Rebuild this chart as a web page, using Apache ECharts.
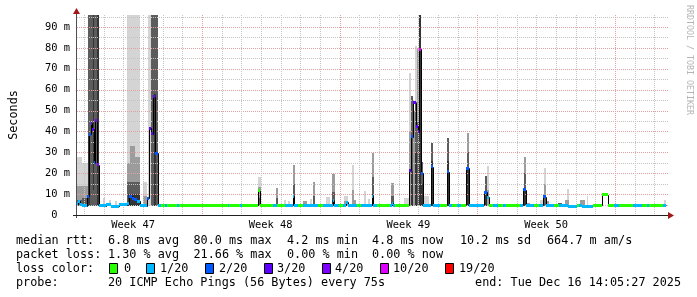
<!DOCTYPE html>
<html><head><meta charset="utf-8">
<script src="https://cdn.jsdelivr.net/npm/echarts@6/dist/echarts.min.js"></script>
<style>html,body{margin:0;padding:0;background:#fff}#c{width:697px;height:297px}</style>
</head><body><div id="c"></div>
<script>
// ---- time axis: days since Tue 18 Nov 2025 00:00 ----
const dayTicks = [0,1,2,3,4,5,6,7,8,9,10,11,12,13,14,15,16,17,18,19,20,21,22,23,24,25,26,27,28,29];
const weekTicks = [6,13,20,27];
const weekLabels = ['Week 47','Week 48','Week 49','Week 50'];
const weekLabelDays = [2.5,9.5,16.5,23.5];
// ---- value axis (ms) ----
const yMajorTicks = [10,20,30,40,50,60,70,80,90];
const yMinorTicks = [5,15,25,35,45,55,65,75,85,95];
const yMax = 95.74;

// median rtt: [startDay, endDay, ms, lostPings]
const medianSegments = [
[-0.4,-0.3,5.5,1],[-0.3,-0.2,6.5,1],[-0.2,-0.1,5,1],[-0.1,0.15,4.5,1],[0.15,0.25,9,2],
[0.25,0.35,38.6,2],[0.35,0.41,44,3],[0.41,0.5,41,3],[0.5,0.575,25,2],[0.575,0.65,45,4],[0.65,0.75,24,4],
[0.75,1.15,4.5,1],[1.15,1.4,5,1],[1.4,1.8,4.3,1],[1.8,2.2,4.8,1],[2.2,2.3,5.5,1],[2.3,2.45,9,2],
[2.45,2.55,8,2],[2.55,2.7,7.2,2],[2.7,2.85,6.7,1],[2.85,3.2,4.5,1],[3.2,3.3,8,2],[3.3,3.4,41.5,3],
[3.4,3.5,39,3],[3.5,3.625,56.6,3],[3.625,3.75,29.5,2],[3.75,3.9,4.7,1],[3.9,4.15,4.7,0],[4.15,4.25,4.7,1],
[4.25,4.75,4.7,0],[4.75,4.85,4.5,1],[4.85,7.35,4.7,0],[7.35,7.4,4.7,1],[7.4,7.95,4.7,0],[7.95,8.025,4.7,1],
[8.025,8.85,4.7,0],[8.85,8.975,11.5,0],[8.975,9.6,4.7,0],[9.6,9.8,4.7,1],[9.8,10.25,4.7,0],[10.25,10.625,4.7,1],
[10.625,10.7,9,1],[10.7,10.9,4.7,1],[10.9,11.15,4.7,0],[11.15,11.9,4.7,1],[11.9,12.15,4.7,0],[12.15,12.65,4.7,1],
[12.65,12.725,6.8,1],[12.725,12.95,4.7,1],[12.95,13.2,4.7,0],[13.2,13.35,4.7,1],[13.35,13.425,6,1],[13.425,13.9,4.7,1],
[13.9,14.1,4.7,0],[14.1,14.625,4.7,1],[14.625,14.7,9,1],[14.7,14.9,4.7,1],[14.9,15.55,4.7,0],[15.55,15.65,4.7,1],
[15.65,15.725,5.6,1],[15.725,15.8,4.7,1],[15.8,16.55,4.7,0],[16.55,16.65,21.5,3],[16.65,16.75,37.5,2],
[16.75,16.9,53.7,3],[16.9,16.975,42.6,3],[16.975,17.05,39.9,4],[17.05,17.15,79.4,10],[17.15,17.25,20,2],
[17.25,17.625,4.7,1],[17.625,17.75,23,2],[17.75,18.1,4.7,1],[18.1,18.45,4.7,0],[18.45,18.575,20.7,2],
[18.575,18.7,4.7,1],[18.7,18.95,4.7,0],[18.95,19.2,4.7,1],[19.2,19.45,4.7,0],[19.45,19.575,22.3,2],
[19.575,20.35,4.7,1],[20.35,20.475,11,2],[20.475,20.6,8.5,1],[20.6,20.8,4.7,0],[20.8,21.05,4.7,1],
[21.05,21.3,4.7,0],[21.3,21.45,4.7,1],[21.45,22.2,4.7,0],[22.2,22.35,4.7,1],[22.35,22.5,12,2],
[22.5,22.9,4.7,1],[22.9,23.15,4.7,0],[23.15,23.35,4.7,1],[23.35,23.5,8.8,2],[23.5,23.9,4.7,1],
[23.9,24.15,4.7,0],[24.15,24.6,4.7,1],[24.6,25.05,4.3,1],[25.05,25.2,4.7,0],[25.2,25.35,4.7,1],
[25.35,25.9,4.2,1],[25.9,26.335,4.7,0],[26.335,26.635,9.6,0],[26.635,26.95,4.7,0],[26.95,27.2,4.7,1],
[27.2,27.9,4.7,0],[27.9,28.4,4.7,1],[28.4,28.65,4.7,0],[28.65,28.75,4.7,1],[28.75,29.45,4.7,0],[29.45,29.6,4.7,1]
];

// smoke: [startDay, endDay, lowMs, highMs, density 0..3]
const smokeBands = [
[-0.4,-0.1,4.3,28,0],[-0.4,-0.1,4.3,14,1],[-0.4,-0.1,4.3,7,2],
[-0.1,0.2,4.3,25,0],[-0.1,0.2,4.3,14,1],[-0.1,0.2,4.3,8,2],
[0.225,0.75,4.3,96,2],[0.225,0.325,4.3,38,3],[0.45,0.5,12,96,3],[0.65,0.75,4.3,96,3],
[0.95,1.05,4.3,8,0],[1.3,1.4,4.3,7,0],[1.6,1.7,4.3,6.5,0],
[2.2,2.85,4.3,96,0],[2.2,2.35,4.3,25,1],[2.35,2.6,4.3,33,1],[2.6,2.85,4.3,28,1],[2.2,2.85,4.3,16,2],[2.25,2.85,4.3,10,3],
[3.0,3.2,4.3,16,0],[3.0,3.2,4.3,9,1],
[3.25,3.4,4.3,96,0],[3.4,3.75,4.3,96,2],[3.55,3.65,4.3,58,3],
[8.85,9.0,4.3,18,0],[8.85,9.0,4.3,13.5,1],[8.85,9.0,4.3,8,2],
[9.75,9.85,4.3,13,1],[9.75,9.85,4.3,8,2],
[10.2,10.3,4.3,7,0],[10.4,10.5,4.3,6.5,0],
[10.625,10.75,4.3,24,1],[10.625,10.75,4.3,15,2],[10.625,10.75,4.3,9,3],
[11.135,11.335,4.3,6.7,1],[11.5,11.6,4.3,7.5,0],
[11.635,11.75,4.3,16,1],[11.635,11.75,4.3,9,2],
[12.3,12.5,4.3,8.5,0],
[12.635,12.75,4.3,19.6,1],[12.635,12.75,4.3,11,2],[12.635,12.75,4.3,7,3],
[13.215,13.415,4.3,9,0],[13.215,13.415,4.3,6.5,1],
[13.635,13.75,4.3,24,0],[13.635,13.75,4.3,12,1],[13.75,13.85,4.3,7,1],
[14.25,14.35,4.3,11.5,0],[14.425,14.525,4.3,7.5,0],
[14.635,14.75,4.3,29.5,1],[14.635,14.75,4.3,18,2],[14.635,14.75,4.3,10,3],
[15.635,15.75,4.3,15.5,1],[15.635,15.75,4.3,9,2],
[16.3,16.525,4.3,8,0],
[16.525,16.615,4.3,67.8,0],[16.525,16.615,4.3,40,1],
[16.615,16.75,4.3,57,2],[16.615,16.75,4.3,21,3],
[16.75,16.815,4.3,50,1],
[16.815,16.95,4.3,81,0],[16.815,16.95,4.3,54,2],[16.815,16.95,4.3,30,3],
[16.95,17.05,4.3,80,1],[16.95,17.05,4.3,45,2],
[17.05,17.15,4.3,96,3],
[17.15,17.25,4.3,25.5,2],[17.15,17.25,4.3,15,3],
[17.25,17.55,4.3,9,0],
[17.635,17.75,4.3,34.6,2],[17.635,17.75,4.3,26,3],
[18.465,18.585,4.3,37,2],[18.465,18.585,4.3,26,3],
[19.465,19.6,4.3,39.4,1],[19.465,19.6,4.3,30,2],[19.465,19.6,4.3,22,3],
[20.385,20.5,4.3,18.8,2],[20.385,20.5,4.3,11,3],[20.5,20.6,4.3,23.6,0],[20.5,20.6,4.3,12,1],
[22.365,22.5,4.3,28,1],[22.365,22.5,4.3,20,2],[22.365,22.5,4.3,12,3],
[22.5,22.7,4.3,5.9,1],[23.2,23.335,4.3,7,0],[23.335,23.4,4.3,8.8,3],
[23.4,23.5,4.3,22.3,0],[23.4,23.5,4.3,15,1],[23.4,23.5,4.3,9,2],
[23.5,23.625,4.3,6.5,1],[24.1,24.3,4.3,5.6,2],
[24.465,24.665,4.3,7,1],[24.585,24.65,4.3,12.4,0],
[25.25,25.5,4.3,7,1],[25.585,25.65,4.3,9,0],[29.5,29.6,4.3,7,0]
];

const lossLevels = [0,1,2,3,4,10,19];
const lossLabels = ['0','1/20','2/20','3/20','4/20','10/20','19/20'];
const statsRtt = ['median rtt:','6.8 ms avg','80.0 ms max','4.2 ms min','4.8 ms now','10.2 ms sd','664.7 m am/s'];
const statsLoss = ['packet loss:','1.30 % avg','21.66 % max','0.00 % min','0.00 % now'];
const probeText = ['probe:','20 ICMP Echo Pings (56 Bytes) every 75s'];
const endText = 'end: Tue Dec 16 14:05:27 2025';

// ---- styles ----
const MONO = '"DejaVu Sans Mono", monospace';
const lossColors = ['#26ff00','#00b8ff','#0059ff','#5e00ff','#7e00ff','#dd00ff','#ff0000'];
const smokeColors = ['#d4d4d4','#9c9c9c','#5c5c5c','#343434'];
const minorGrid = '#c4c4c4', majorGrid = '#e4a0a0';
const lossColor = l => lossColors[lossLevels.indexOf(l)];

const chart = echarts.init(document.getElementById('c'), null, {renderer:'canvas', width:697, height:297});

const gridData = [
  ...yMinorTicks.map(v => [0, v]), ...yMajorTicks.map(v => [1, v]),
  ...dayTicks.filter(d => weekTicks.indexOf(d) < 0).map(v => [2, v]), ...weekTicks.map(v => [3, v])
];
const medianData = medianSegments.map((s, i) => [s[0], s[1], s[2], s[3], i ? medianSegments[i-1][2] : s[2]]);

const statX = [16,108,193.5,287,372,460,547];
const rowY = [241,255,269,283];
const legendBoxX = [109,146,205,264,322,380,445];
const legendTextX = [124,160,219,277,335,393,459];
const font = '11.8px ' + MONO;
const graphics = [];
statsRtt.forEach((t,i) => graphics.push({type:'text', x:statX[i], y:rowY[0], style:{text:t, font, fill:'#000', verticalAlign:'middle'}}));
statsLoss.forEach((t,i) => graphics.push({type:'text', x:statX[i], y:rowY[1], style:{text:t, font, fill:'#000', verticalAlign:'middle'}}));
graphics.push({type:'text', x:16, y:rowY[2], style:{text:'loss color:', font, fill:'#000', verticalAlign:'middle'}});
lossLabels.forEach((t,i) => {
  graphics.push({type:'rect', shape:{x:legendBoxX[i]+0.5, y:rowY[2]-5.5, width:8, height:10}, style:{fill:lossColors[i], stroke:'#000', lineWidth:1}});
  graphics.push({type:'text', x:legendTextX[i], y:rowY[2], style:{text:t, font, fill:'#000', verticalAlign:'middle'}});
});
probeText.forEach((t,i) => graphics.push({type:'text', x:statX[i], y:rowY[3], style:{text:t, font, fill:'#000', verticalAlign:'middle'}}));
graphics.push({type:'text', x:681, y:rowY[3], style:{text:endText, font, fill:'#000', align:'right', verticalAlign:'middle'}});
graphics.push({type:'text', x:689, y:5, rotation:-Math.PI/2, style:{text:'RRDTOOL / TOBI OETIKER', font:'8.3px ' + MONO, fill:'#b4b4b4', verticalAlign:'middle'}});

chart.setOption({
  animation: false,
  backgroundColor: '#fff',
  grid: {left:66, right:29, top:15, bottom:82},
  xAxis: {type:'value', min:-0.4, max:29.7, axisLine:{show:false}, axisTick:{show:false}, axisLabel:{show:false}, splitLine:{show:false}},
  yAxis: {type:'value', min:0, max:yMax, interval:10,
    axisLine:{show:false}, axisTick:{show:false}, splitLine:{show:false},
    axisLabel:{showMaxLabel:false, margin:6, fontFamily:MONO, fontSize:10.4, color:'#000',
      formatter: v => v === 0 ? '0  ' : v + ' m'},
    name:'Seconds', nameLocation:'middle', nameGap:56, nameRotate:90,
    nameTextStyle:{fontFamily:MONO, fontSize:11.8, color:'#000'}},
  graphic: graphics,
  series: [
    { // smoke
      type:'custom', clip:true, z:2, data:smokeBands,
      renderItem(params, api) {
        const p0 = api.coord([api.value(0), api.value(3)]);
        const p1 = api.coord([api.value(1), api.value(2)]);
        const x0 = Math.round(p0[0]), x1 = Math.round(p1[0]);
        const y0 = Math.round(p0[1]), y1 = Math.round(p1[1]);
        const d = api.value(4);
        return {type:'rect', z2:d, shape:{x:x0, y:y0, width:Math.max(1,x1-x0), height:y1-y0}, style:{fill:smokeColors[d]}};
      }
    },
    { // grid
      type:'custom', z:3, silent:true, data:gridData,
      renderItem(params, api) {
        const cs = params.coordSys;
        const k = api.value(0), v = api.value(1);
        const stroke = (k === 1 || k === 3) ? majorGrid : minorGrid;
        if (k < 2) {
          const y = Math.round(api.coord([0, v])[1]) + 0.5;
          return {type:'line', shape:{x1:cs.x+1, y1:y, x2:cs.x+cs.width, y2:y}, style:{stroke, lineWidth:1, lineDash:[1,1]}};
        }
        const x = Math.round(api.coord([v, 0])[0]) + 0.5;
        return {type:'line', shape:{x1:x, y1:cs.y, x2:x, y2:cs.y+cs.height}, style:{stroke, lineWidth:1, lineDash:[1,1]}};
      }
    },
    { // median connector line
      type:'custom', clip:true, z:4, data:medianData,
      renderItem(params, api) {
        const a = api.coord([api.value(0), api.value(4)]);
        const b = api.coord([api.value(0), api.value(2)]);
        const c = api.coord([api.value(1), api.value(2)]);
        const x0 = Math.round(a[0]) + 0.5, x1 = Math.round(c[0]) + 0.5;
        return {type:'polyline', shape:{points:[[x0, Math.round(a[1])+0.5],[x0, Math.round(b[1])+0.5],[x1, Math.round(c[1])+0.5]]},
          style:{stroke:'#000', lineWidth:1, fill:null}};
      }
    },
    { // median coloured by loss
      type:'custom', clip:true, z:5, data:medianData,
      renderItem(params, api) {
        const a = api.coord([api.value(0), api.value(2)]);
        const b = api.coord([api.value(1), api.value(2)]);
        const x0 = Math.round(a[0]), x1 = Math.round(b[0]);
        const y = Math.round(a[1] - 1.5);
        return {type:'rect', shape:{x:x0, y, width:Math.max(1, x1-x0), height:3}, style:{fill:lossColor(api.value(3))}};
      }
    },
    { // axes with arrows
      type:'custom', z:6, silent:true, data:[[0]],
      renderItem(params) {
        const cs = params.coordSys;
        const L = cs.x, B = cs.y + cs.height, R = cs.x + cs.width, T = cs.y;
        return {type:'group', children:[
          {type:'line', shape:{x1:L+0.5, y1:B+3, x2:L+0.5, y2:T-2}, style:{stroke:'#505050', lineWidth:1}},
          {type:'line', shape:{x1:L-3, y1:B+0.5, x2:R+1, y2:B+0.5}, style:{stroke:'#202020', lineWidth:1}},
          {type:'polygon', shape:{points:[[L+0.5, T-7],[L-3, T-1],[L+4, T-1]]}, style:{fill:'#a01818'}},
          {type:'polygon', shape:{points:[[R+6, B+0.5],[R, B-3],[R, B+4]]}, style:{fill:'#a01818'}}
        ]};
      }
    },
    { // week labels
      type:'custom', z:6, silent:true, data:weekLabelDays.map((d,i) => [d, i]),
      renderItem(params, api) {
        const p = api.coord([api.value(0), 0]);
        return {type:'text', x:p[0], y:p[1] + 10, style:{text:weekLabels[api.value(1)], font:'10.4px ' + MONO, fill:'#000', align:'center', verticalAlign:'middle'}};
      }
    }
  ]
});
</script>
</body></html>
